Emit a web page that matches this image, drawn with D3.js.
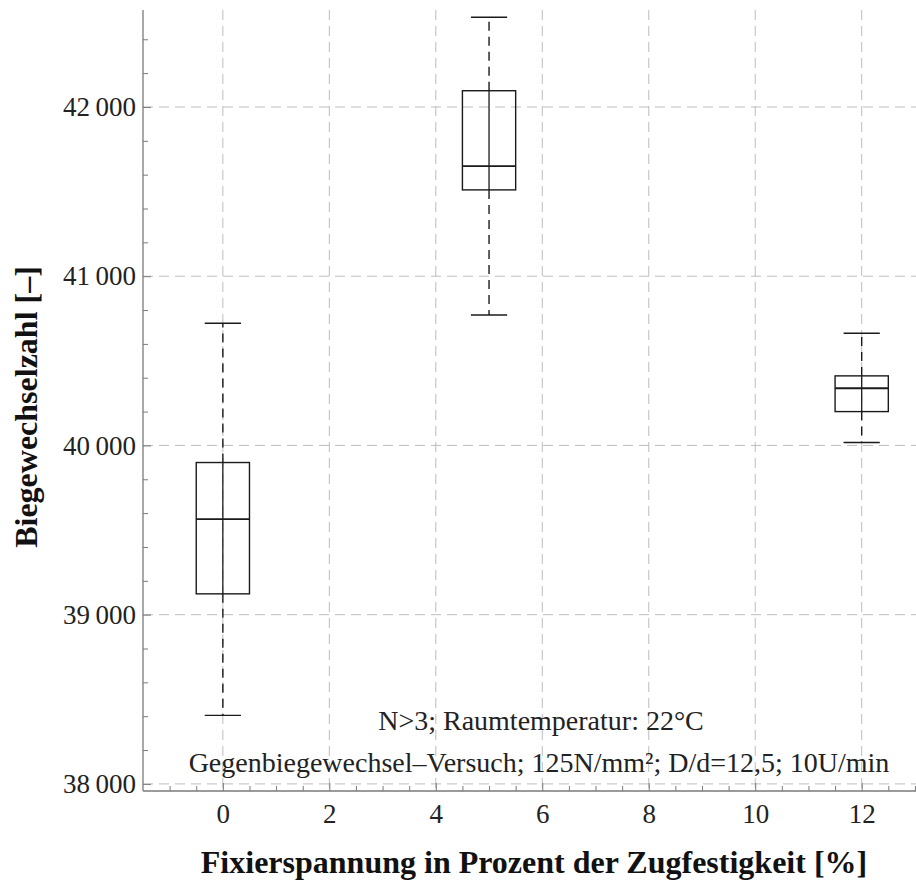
<!DOCTYPE html>
<html>
<head>
<meta charset="utf-8">
<script src="https://cdn.jsdelivr.net/npm/d3@7"></script>
<style>
  html, body { margin: 0; padding: 0; background: #fff; }
  svg { display: block; }
  svg text { font-family: "Liberation Serif", "Times New Roman", Times, serif; }
</style>
</head>
<body>
<svg id="chart" width="916" height="883"></svg>
<script>
// ---- data ----
const positions   = [0, 5, 12];
const whiskerLow  = [38405, 40771, 40017];
const quartileLow = [39123, 41510, 40200];
const medians     = [39565, 41651, 40338];
const quartileHigh= [39899, 42096, 40411];
const whiskerHigh = [40722, 42530, 40663];

const xTicks = [0, 2, 4, 6, 8, 10, 12];
const yTicks = [38000, 39000, 40000, 41000, 42000];
const xLabel = "Fixierspannung in Prozent der Zugfestigkeit [%]";
const yLabel = "Biegewechselzahl [–]";
const notes  = ["N>3; Raumtemperatur: 22°C",
                "Gegenbiegewechsel–Versuch; 125N/mm²; D/d=12,5; 10U/min"];

// ---- layout ----
const pL = 143, pR = 916, pT = 10, pB = 791;
const serif = '"Liberation Serif", "Times New Roman", Times, serif';
const svg = d3.select("#chart");

const x = d3.scaleLinear().domain([-1.5, 13.02]).range([pL, pR]);
const y = d3.scaleLinear().domain([37958, 42573]).range([pB, pT]);

const xMinor = d3.range(-1, 13.01, 0.5).filter(v => !xTicks.includes(v));
const yMinor = d3.range(38000, 42500, 200).filter(v => !yTicks.includes(v));

// grid
const grid = svg.append("g").attr("stroke", "#bdbdbd").attr("stroke-width", 1)
  .attr("stroke-dasharray", "10,6");
grid.selectAll("line.v").data(xTicks).join("line").attr("class", "v")
  .attr("x1", d => x(d)).attr("x2", d => x(d))
  .attr("y1", pT).attr("y2", pB);
grid.selectAll("line.h").data(yTicks).join("line").attr("class", "h")
  .attr("x1", pL).attr("x2", pR)
  .attr("y1", d => y(d)).attr("y2", d => y(d));

// axes
const fmt = v => {
  const s = String(v);
  return s.slice(0, s.length - 3) + "\u2009" + s.slice(-3);
};

const yAxis = svg.append("g").attr("transform", `translate(${pL},0)`)
  .call(d3.axisLeft(y).tickValues(yTicks).tickFormat(fmt)
        .tickSizeInner(-8).tickSizeOuter(0).tickPadding(7));
const yAxisMinor = svg.append("g").attr("transform", `translate(${pL},0)`)
  .call(d3.axisLeft(y).tickValues(yMinor).tickFormat("")
        .tickSizeInner(-5).tickSizeOuter(0));
const xAxis = svg.append("g").attr("transform", `translate(0,${pB})`)
  .call(d3.axisBottom(x).tickValues(xTicks).tickFormat(d3.format("d"))
        .tickSizeInner(-8).tickSizeOuter(0).tickPadding(13));
const xAxisMinor = svg.append("g").attr("transform", `translate(0,${pB})`)
  .call(d3.axisBottom(x).tickValues(xMinor).tickFormat("")
        .tickSizeInner(-5).tickSizeOuter(0));

[yAxis, yAxisMinor, xAxis, xAxisMinor].forEach(g => {
  g.attr("font-family", serif).attr("font-size", 27);
  g.select(".domain").attr("stroke", "#7a7a7a").attr("stroke-width", 1.3);
  g.selectAll(".tick line").attr("stroke", "#7a7a7a").attr("stroke-width", 1);
  g.selectAll(".tick text").attr("fill", "#222");
});
yAxis.select(".domain").attr("d", `M0,${pT}V${pB}`);
xAxis.select(".domain").attr("d", `M${pL},0H${pR}`);
yAxisMinor.select(".domain").remove();
xAxisMinor.select(".domain").remove();

// boxes
const data = positions.map((p, i) => ({
  p, lo: whiskerLow[i], q1: quartileLow[i], med: medians[i],
  q3: quartileHigh[i], hi: whiskerHigh[i]
}));
const boxW = 1.0, capW = 0.68;
const bg = svg.append("g").attr("stroke", "#1a1a1a").attr("fill", "none");
const b = bg.selectAll("g.box").data(data).join("g").attr("class", "box");
b.append("line").attr("x1", d => x(d.p)).attr("x2", d => x(d.p))
  .attr("y1", d => y(d.q3)).attr("y2", d => y(d.hi))
  .attr("stroke-width", 1.4).attr("stroke-dasharray", "9,6");
b.append("line").attr("x1", d => x(d.p)).attr("x2", d => x(d.p))
  .attr("y1", d => y(d.q1)).attr("y2", d => y(d.lo))
  .attr("stroke-width", 1.4).attr("stroke-dasharray", "9,6");
b.append("line").attr("x1", d => x(d.p - capW / 2)).attr("x2", d => x(d.p + capW / 2))
  .attr("y1", d => y(d.hi)).attr("y2", d => y(d.hi)).attr("stroke-width", 1.4);
b.append("line").attr("x1", d => x(d.p - capW / 2)).attr("x2", d => x(d.p + capW / 2))
  .attr("y1", d => y(d.lo)).attr("y2", d => y(d.lo)).attr("stroke-width", 1.4);
b.append("rect")
  .attr("x", d => x(d.p - boxW / 2)).attr("width", d => x(d.p + boxW / 2) - x(d.p - boxW / 2))
  .attr("y", d => y(d.q3)).attr("height", d => y(d.q1) - y(d.q3))
  .attr("stroke-width", 1.4);
b.append("line").attr("x1", d => x(d.p)).attr("x2", d => x(d.p))
  .attr("y1", d => y(d.q3)).attr("y2", d => y(d.q1)).attr("stroke-width", 1.3);
b.append("line").attr("x1", d => x(d.p - boxW / 2)).attr("x2", d => x(d.p + boxW / 2))
  .attr("y1", d => y(d.med)).attr("y2", d => y(d.med)).attr("stroke-width", 1.8);

// notes
svg.append("text").attr("x", 541).attr("y", 730).attr("text-anchor", "middle")
  .attr("fill", "#222").attr("font-size", 28).text(notes[0]);
svg.append("text").attr("x", 539).attr("y", 772).attr("text-anchor", "middle")
  .attr("fill", "#222").attr("font-size", 28).text(notes[1]);

// axis titles
svg.append("text").attr("x", 534).attr("y", 873)
  .attr("text-anchor", "middle").attr("fill", "#111")
  .attr("font-size", 32).attr("font-weight", "bold").text(xLabel);
svg.append("text")
  .attr("transform", `translate(37,407) rotate(-90)`)
  .attr("text-anchor", "middle").attr("fill", "#111")
  .attr("font-size", 32).attr("font-weight", "bold").text(yLabel);
</script>
</body>
</html>
